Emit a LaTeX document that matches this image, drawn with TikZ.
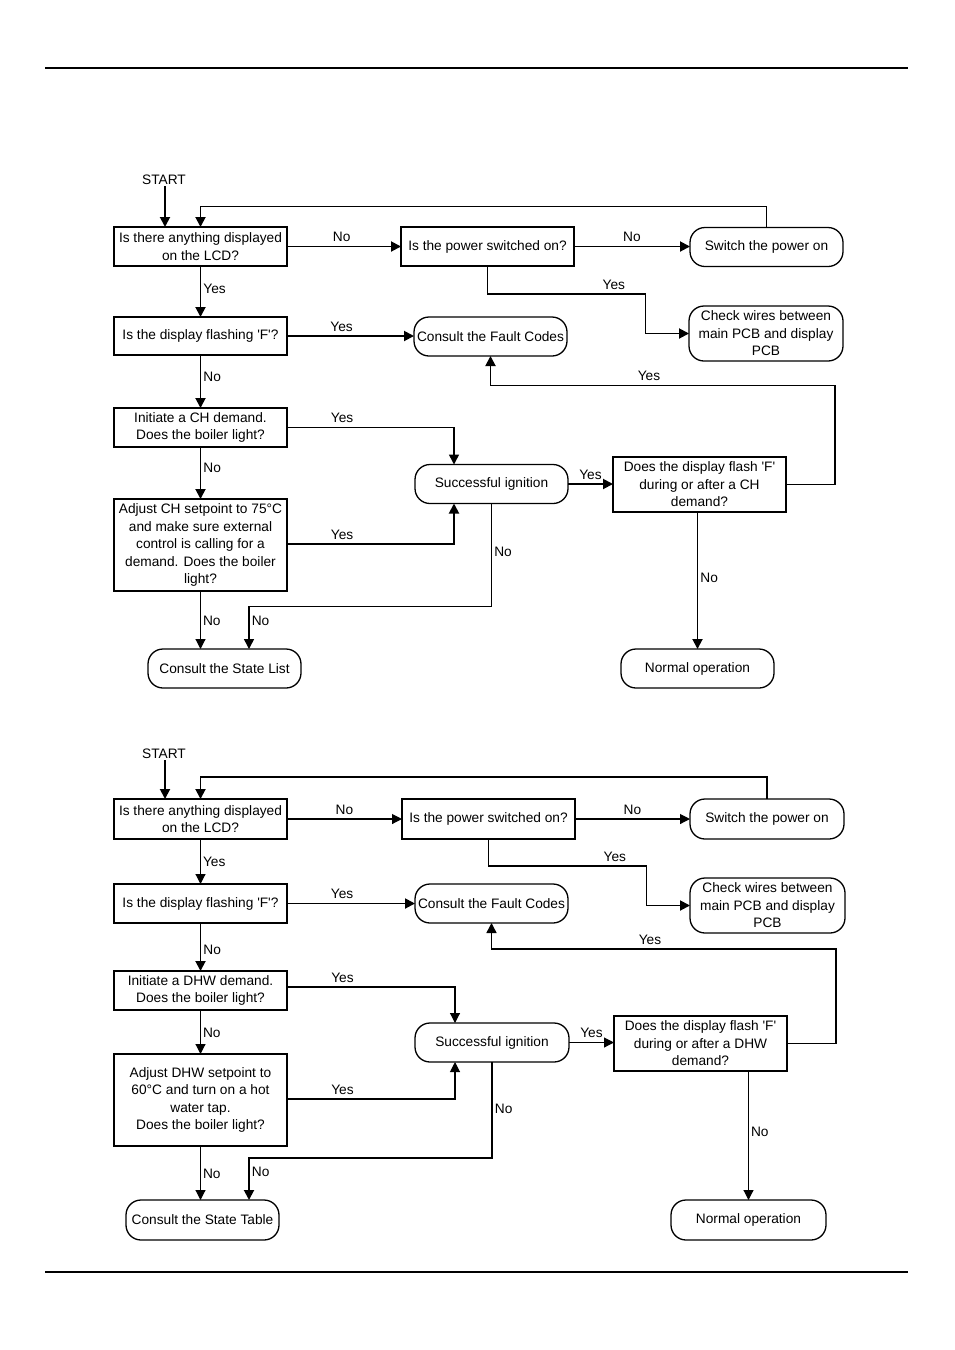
\documentclass[tikz,border=0pt]{standalone}
\usepackage{fontspec}
\setmainfont{Liberation Sans}
\usetikzlibrary{arrows.meta}
\newcommand{\q}{\textquotesingle}
\begin{document}
\begin{tikzpicture}[x=1pt,y=-1pt,
  every node/.style={font=\fontsize{13.7}{17.5}\selectfont},
  sq/.style={draw,line width=1.9pt,rectangle,inner sep=1pt,outer sep=0pt,align=center,minimum width=173pt},
  rnd/.style={draw,line width=1.3pt,rectangle,rounded corners=15pt,inner sep=1pt,outer sep=0pt,align=center,minimum width=153pt},
  lbl/.style={inner sep=2pt,text height=10pt,text depth=0pt,font=\fontsize{13.7}{15}\selectfont},
  ab/.style={above,yshift=2pt},
  tk/.style={line width=1.9pt},
  md/.style={line width=1.5pt},
  tn/.style={line width=1.1pt},
  arr/.style={-{Triangle[length=10pt,width=10pt]}},
]
\useasboundingbox (0,0) rectangle (954,1350);
\draw[line width=1.9pt] (45,68) -- (908,68);
\draw[line width=1.2pt] (45,1272) -- (908,1272);

% ---------------- top chart ----------------
\node[lbl] (st) at (164,179) {START};
\node[sq,minimum height=39pt] (a1) at (200.5,246.5) {Is there anything displayed\\on the LCD?};
\node[sq,minimum height=39pt] (pw) at (487.5,246.5) {Is the power switched on?};
\node[rnd,minimum height=39pt] (sw) at (766.5,247) {Switch the power on};
\node[rnd,minimum height=55pt,minimum width=154pt] (cw) at (766,333.5) {Check wires between\\main PCB and display\\PCB};
\node[sq,minimum height=38pt] (fl) at (200.5,336) {Is the display flashing \q F\q?};
\node[rnd,minimum height=39pt] (fc) at (490.5,336.5) {Consult the Fault Codes};
\node[sq,minimum height=39pt] (ch) at (200.5,427.5) {Initiate a CH demand.\\Does the boiler light?};
\node[rnd,minimum height=39pt] (ig) at (491.5,484) {Successful ignition};
\node[sq,minimum height=92pt] (ad) at (200.5,545) {Adjust CH setpoint to 75\textdegree C\\and make sure external\\control is calling for a\\demand. Does the boiler\\light?};
\node[rnd,minimum height=39pt] (sl) at (224.5,668.5) {Consult the State List};
\node[sq,minimum height=55pt] (fd) at (699.5,484.5) {Does the display flash \q F\q\\during or after a CH\\demand?};
\node[rnd,minimum height=39pt] (no) at (697.5,668.5) {Normal operation};

\draw[tk,arr] ([xshift=1pt]st.south) -- ([xshift=1pt]st.south |- a1.north);
\draw[tk,arr] (sw.north) -- ++(0,-21) -| (a1.north);
\draw[tk,arr] (a1.east) -- node[lbl,ab,pos=0.48] {No} (pw.west);
\draw[tk,arr] (pw.east) -- node[lbl,ab] {No} (sw.west |- pw.east);
\draw[tk,arr] (pw.south) -- ++(0,28) -- node[lbl,ab,pos=0.8] {Yes} ++(158,0) |- (cw.west);
\draw[tk,arr] (a1.south) -- node[lbl,right,pos=0.45] {Yes} (fl.north);
\draw[tk,arr] (fl.east) -- node[lbl,ab,pos=0.43] {Yes} (fc.west |- fl.east);
\draw[tk,arr] (fl.south) -- node[lbl,right,pos=0.4] {No} (ch.north);
\draw[md,arr] (ch.east) -| node[lbl,ab,pos=0.165] {Yes} ([xshift=-37.5pt]ig.north);
\draw[tk,arr] (ch.south) -- node[lbl,right,pos=0.4] {No} (ad.north);
\draw[tk,arr] ([yshift=1pt]ad.east) -| node[lbl,ab,pos=0.165] {Yes} ([xshift=-37.5pt]ig.south);
\draw[tn,arr] (ad.south) -- node[lbl,right,pos=0.5] {No} ([xshift=-24pt]sl.north);
\draw[md,arr] (ig.south) -- node[lbl,right,pos=0.47] {No} ++(0,103) -| node[lbl,right,pos=0.66] {No} ([xshift=24.5pt]sl.north);
\draw[tk,arr] (ig.east) -- node[lbl,ab] {Yes} (fd.west |- ig.east);
\draw[tk,arr] (fd.east) -- ++(49,0) -- ++(0,-99) -| node[lbl,ab,pos=0.27] {Yes} (fc.south);
\draw[tk,arr] (no.north |- fd.south) -- node[lbl,right,pos=0.48] {No} (no.north);

% ---------------- bottom chart ----------------
\node[lbl] (stb) at (164,753) {START};
\node[sq,minimum height=40pt] (a1b) at (200.5,819) {Is there anything displayed\\on the LCD?};
\node[sq,minimum height=40pt] (pwb) at (488.5,819) {Is the power switched on?};
\node[rnd,minimum height=40pt,minimum width=154pt] (swb) at (767,819) {Switch the power on};
\node[rnd,minimum height=55pt,minimum width=155pt] (cwb) at (767.5,905.5) {Check wires between\\main PCB and display\\PCB};
\node[sq,minimum height=39pt] (flb) at (200.5,903.5) {Is the display flashing \q F\q?};
\node[rnd,minimum height=39pt] (fcb) at (491.5,903.5) {Consult the Fault Codes};
\node[sq,minimum height=39pt] (dhw) at (200.5,990.5) {Initiate a DHW demand.\\Does the boiler light?};
\node[rnd,minimum height=39pt,minimum width=154pt] (igb) at (492,1042.5) {Successful ignition};
\node[sq,minimum height=92pt] (adb) at (200.5,1100) {Adjust DHW setpoint to\\60\textdegree C and turn on a hot\\water tap.\\Does the boiler light?};
\node[rnd,minimum height=40pt] (stt) at (202.5,1220) {Consult the State Table};
\node[sq,minimum height=55pt] (fdb) at (700.5,1043.5) {Does the display flash \q F\q\\during or after a DHW\\demand?};
\node[rnd,minimum height=40pt,minimum width=155pt] (nob) at (748.5,1220) {Normal operation};

\draw[tk,arr] ([xshift=1pt]stb.south) -- ([xshift=1pt]stb.south |- a1b.north);
\draw[tk,arr] (swb.north) -- ++(0,-22) -| (a1b.north);
\draw[tn,arr] (a1b.east) -- node[lbl,ab,pos=0.5] {No} (pwb.west);
\draw[tn,arr] (pwb.east) -- node[lbl,ab] {No} (swb.west |- pwb.east);
\draw[tk,arr] (pwb.south) -- ++(0,27) -- node[lbl,ab,pos=0.8] {Yes} ++(158,0) |- (cwb.west);
\draw[tn,arr] (a1b.south) -- node[lbl,right,pos=0.5] {Yes} (flb.north);
\draw[tk,arr] (flb.east) -- node[lbl,ab,pos=0.43] {Yes} (fcb.west |- flb.east);
\draw[tk,arr] (flb.south) -- node[lbl,right,pos=0.55] {No} (dhw.north);
\draw[tn,arr] ([yshift=3.5pt]dhw.east) -| node[lbl,ab,pos=0.165] {Yes} ([xshift=-37pt]igb.north);
\draw[tn,arr] (dhw.south) -- node[lbl,right,pos=0.5] {No} (adb.north);
\draw[tn,arr] ([yshift=1pt]adb.east) -| node[lbl,ab,pos=0.165] {Yes} ([xshift=-37pt]igb.south);
\draw[tn,arr] (adb.south) -- node[lbl,right,pos=0.5] {No} ([xshift=-2pt]stt.north);
\draw[tk,arr] (igb.south) -- node[lbl,right,pos=0.48] {No} ++(0,96) -| node[lbl,right,pos=0.66] {No} ([xshift=46.5pt]stt.north);
\draw[tn,arr] (igb.east) -- node[lbl,ab] {Yes} (fdb.west |- igb.east);
\draw[md,arr] (fdb.east) -- ++(49,0) -- ++(0,-94.5) -| node[lbl,ab,pos=0.27] {Yes} (fcb.south);
\draw[tn,arr] (nob.north |- fdb.south) -- node[lbl,right,pos=0.47] {No} (nob.north);
\end{tikzpicture}
\end{document}
